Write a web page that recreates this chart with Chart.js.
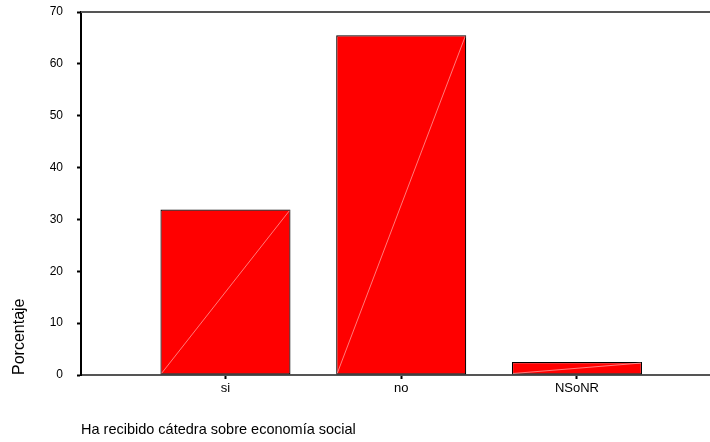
<!DOCTYPE html>
<html lang="es">
<head>
  <meta charset="UTF-8" />
  <title>Ha recibido cátedra sobre economía social</title>
  <script src="https://cdn.jsdelivr.net/npm/chart.js"></script>
  <style>
    body {
      margin: 0;
      background: #fff;
    }
    canvas {
      display: block;
    }
  </style>
</head>
<body>
  <canvas id="chart" width="710" height="442"></canvas>

  <script>
// Data
const categories = ['si', 'no', 'NSoNR'];
const porcentaje = [31.9, 65.5, 2.5];
const yTicks = [0, 10, 20, 30, 40, 50, 60, 70];

Chart.defaults.font.family = "'Liberation Sans', Arial, sans-serif";
Chart.defaults.color = '#000';

// SPSS-style frame: grey top line plus faint diagonal across each bar
const spssLook = {
  id: 'spssLook',
  beforeDatasetsDraw(chart) {
    const { ctx, chartArea } = chart;
    ctx.save();
    ctx.strokeStyle = '#555';
    ctx.lineWidth = 2;
    ctx.beginPath();
    ctx.moveTo(chartArea.left, chartArea.top);
    ctx.lineTo(chartArea.right, chartArea.top);
    ctx.stroke();
    ctx.restore();
  },
  afterDatasetsDraw(chart) {
    const { ctx } = chart;
    const meta = chart.getDatasetMeta(0);
    ctx.save();
    ctx.strokeStyle = 'rgba(255, 170, 170, 0.9)';
    ctx.lineWidth = 0.8;
    meta.data.forEach(bar => {
      const half = bar.width / 2;
      ctx.beginPath();
      ctx.moveTo(bar.x - half + 1, bar.base - 1);
      ctx.lineTo(bar.x + half - 1, bar.y + 1);
      ctx.stroke();
    });
    ctx.restore();
  }
};

new Chart(document.getElementById('chart'), {
  type: 'bar',
  data: {
    datasets: [{
      label: 'Porcentaje',
      data: porcentaje.map((v, i) => ({ x: i + 1, y: v })),
      backgroundColor: '#ff0000',
      borderColor: '#000',
      borderWidth: 1.2,
      borderSkipped: false,
      categoryPercentage: 1,
      barPercentage: 0.74
    }]
  },
  options: {
    responsive: false,
    animation: false,
    devicePixelRatio: 1,
    layout: { padding: { top: 12, right: 0, bottom: 0, left: 0 } },
    plugins: {
      legend: { display: false },
      tooltip: { enabled: false }
    },
    scales: {
      x: {
        type: 'linear',
        offset: false,
        min: 0.178,
        max: 3.757,
        afterBuildTicks: scale => {
          scale.ticks = categories.map((c, i) => ({ value: i + 1 }));
        },
        afterFit: scale => { scale.height = 67; },
        ticks: {
          callback: v => categories[v - 1],
          font: { size: 13 },
          padding: 2,
          maxRotation: 0,
          autoSkip: false
        },
        grid: {
          offset: false,
          drawOnChartArea: false,
          tickLength: 4,
          tickWidth: 2,
          tickColor: '#000'
        },
        border: { color: '#555', width: 2 },
        title: {
          display: true,
          text: 'Ha recibido cátedra sobre economía social',
          align: 'start',
          font: { size: 14.5 },
          padding: { top: 0, bottom: 3 }
        }
      },
      y: {
        min: 0,
        max: 70,
        afterBuildTicks: scale => {
          scale.ticks = yTicks.map(v => ({ value: v }));
        },
        afterFit: scale => {
          scale.width = 81;
          scale.paddingTop = 0;
          scale.paddingBottom = 0;
        },
        ticks: {
          font: { size: 12 },
          padding: 14
        },
        grid: {
          drawOnChartArea: false,
          tickLength: 4,
          tickWidth: 2,
          tickColor: '#000'
        },
        border: { color: '#000', width: 2 },
        title: {
          display: true,
          text: 'Porcentaje',
          align: 'start',
          font: { size: 16 },
          padding: { top: 10, bottom: 0 }
        }
      }
    }
  },
  plugins: [spssLook]
});
  </script>
</body>
</html>
